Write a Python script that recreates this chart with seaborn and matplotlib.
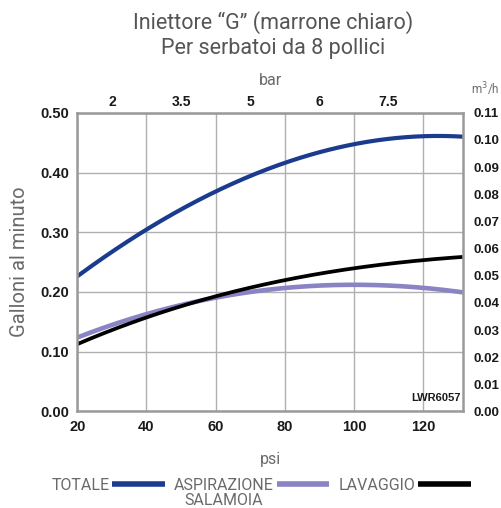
import matplotlib
matplotlib.use("Agg")
import matplotlib.pyplot as plt
import numpy as np
import pandas as pd
import seaborn as sns

# data (psi -> gallons per minute)
psi = [20, 30, 40, 50, 60, 70, 80, 90, 100, 110, 120, 131.5]
totale = [0.226, 0.268, 0.304, 0.338, 0.368, 0.394, 0.417, 0.434, 0.447, 0.456, 0.461, 0.460]
aspirazione = [0.124, 0.145, 0.162, 0.178, 0.191, 0.201, 0.207, 0.210, 0.211, 0.211, 0.208, 0.199]
lavaggio = [0.112, 0.137, 0.158, 0.176, 0.193, 0.207, 0.219, 0.230, 0.240, 0.248, 0.254, 0.258]

bar_pos = [30, 50, 70, 90, 110]
bar_labels = ["2", "3.5", "5", "6", "7.5"]
m3h_ticks = [0.00, 0.01, 0.02, 0.03, 0.04, 0.05, 0.06, 0.07, 0.08, 0.09, 0.10, 0.11]

df = pd.DataFrame({"psi": psi, "TOTALE": totale, "ASPIRAZIONE": aspirazione, "LAVAGGIO": lavaggio})
long = df.melt(id_vars="psi", var_name="serie", value_name="gpm")

sns.set_style("white")
plt.rcParams['font.family'] = ['Liberation Sans', 'DejaVu Sans']

colors = {"TOTALE": "#1b3c8e", "ASPIRAZIONE": "#8a83c4", "LAVAGGIO": "#000000"}
widths = {"TOTALE": 3.0, "ASPIRAZIONE": 3.3, "LAVAGGIO": 2.7}

fig = plt.figure(figsize=(5.02, 5.08), dpi=100)
ax = fig.add_axes([0.154, 0.190, 0.768, 0.588])

for name in ["ASPIRAZIONE", "LAVAGGIO", "TOTALE"]:
    sub = long[long.serie == name]
    # smooth curve through the read points
    xs = np.linspace(min(psi), max(psi), 200)
    coef = np.polyfit(sub.psi, sub.gpm, 3)
    sns.lineplot(x=xs, y=np.polyval(coef, xs), ax=ax, color=colors[name],
                 linewidth=widths[name], label=name, solid_capstyle="butt")

ax.set_xlim(20, 131.5)
ax.set_ylim(0, 0.5)
ax.set_xticks([20, 40, 60, 80, 100, 120])
ax.set_yticks([0, 0.1, 0.2, 0.3, 0.4, 0.5])
ax.set_yticklabels(["0.00", "0.10", "0.20", "0.30", "0.40", "0.50"])
ax.grid(True, color="#b0b0b0", linewidth=1)
for s in ax.spines.values():
    s.set_color("#9a9a9a")
    s.set_linewidth(1.8)
ax.tick_params(length=0, labelsize=10.5, colors="#1a1a1a", pad=6)
for t in ax.get_xticklabels() + ax.get_yticklabels():
    t.set_fontweight("bold")
ax.set_xlabel("psi", family="Roboto", color="#6a6a6a", fontsize=11.5, labelpad=13)
ax.set_ylabel("Galloni al minuto", family="Roboto", color="#6a6a6a", fontsize=14.5, labelpad=8)

top = ax.secondary_xaxis("top")
top.set_xticks(bar_pos)
top.set_xticklabels(bar_labels)
top.tick_params(length=0, labelsize=10, colors="#1a1a1a", pad=3)
for t in top.get_xticklabels():
    t.set_fontweight("bold")
top.set_xlabel("bar", family="Roboto", color="#6a6a6a", fontsize=11.5, labelpad=7)

right = ax.twinx()
right.set_ylim(0, 0.11)
right.set_yticks(m3h_ticks)
right.set_yticklabels([f"{v:.2f}" for v in m3h_ticks])
right.tick_params(length=0, labelsize=9.5, colors="#1a1a1a", pad=8)
for t in right.get_yticklabels():
    t.set_fontweight("bold")
for s in right.spines.values():
    s.set_visible(False)
fig.text(0.966, 0.815, "m$^3$/h", family="Roboto", color="#6a6a6a", fontsize=8.5, ha="center")

ax.text(0.995, 0.03, "LWR6057", transform=ax.transAxes, ha="right", va="bottom",
        fontsize=8, fontweight="bold", color="#1a1a1a")

fig.text(0.544, 0.956, "Iniettore “G” (marrone chiaro)", family="Roboto", color="#555555",
         fontsize=15.5, ha="center", va="center")
fig.text(0.544, 0.904, "Per serbatoi da 8 pollici", family="Roboto", color="#555555",
         fontsize=15.5, ha="center", va="center")

h, l = ax.get_legend_handles_labels()
order = [l.index("TOTALE"), l.index("ASPIRAZIONE"), l.index("LAVAGGIO")]
leg = fig.legend([h[i] for i in order], [l[i] for i in order], loc="center",
                 bbox_to_anchor=(0.52, 0.045), ncol=3, frameon=False, markerfirst=False,
                 handlelength=3.3, handletextpad=0.15, columnspacing=0.6,
                 prop={"family": "Roboto", "size": 11.5})
ax.get_legend().remove()
for t in leg.get_texts():
    t.set_color("#6a6a6a")
for line in leg.get_lines():
    line.set_linewidth(4)

fig.canvas.draw()
bb = leg.get_texts()[1].get_window_extent()
fig.text((bb.x0 + bb.x1) / 2 / fig.bbox.width, (bb.y0 - 8) / fig.bbox.height, "SALAMOIA",
         family="Roboto", color="#6a6a6a", fontsize=11.5, ha="center", va="center")

fig.savefig("out.png", dpi=100)
